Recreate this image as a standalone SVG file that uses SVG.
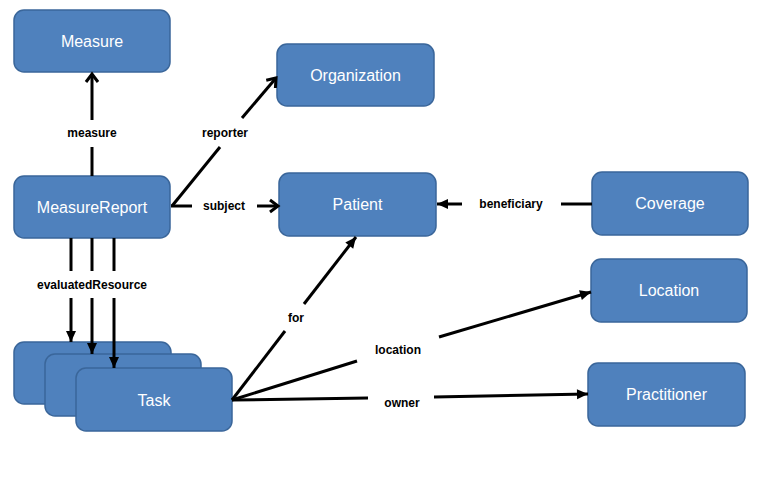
<svg xmlns="http://www.w3.org/2000/svg" width="760" height="486" viewBox="0 0 760 486">
<style>
.n{fill:#4F81BD;stroke:#3A669A;stroke-width:1.5}
.t{fill:#fff;font-family:"Liberation Sans",Arial,sans-serif;font-size:16px;text-anchor:middle;dominant-baseline:central}
.l{fill:#000;font-family:"Liberation Sans",Arial,sans-serif;font-size:12px;font-weight:bold;text-anchor:middle;dominant-baseline:central}
.c{stroke:#000;stroke-width:3;fill:none}
</style>
<defs>
<marker id="open" markerUnits="userSpaceOnUse" markerWidth="14" markerHeight="14" refX="11" refY="7" orient="auto" overflow="visible">
<path d="M3,1 L11,7 L3,13" fill="none" stroke="#000" stroke-width="3"/>
</marker>
<marker id="fill" markerUnits="userSpaceOnUse" markerWidth="12" markerHeight="10" refX="11" refY="5" orient="auto" overflow="visible">
<path d="M0,0 L11,5 L0,10 Z" fill="#000"/>
</marker>
</defs>
<rect width="760" height="486" fill="#fff"/>
<g id="measure"><rect class="n" x="14" y="10" width="156" height="62" rx="10"/><text class="t" x="92" y="41">Measure</text></g>
<g id="organization"><rect class="n" x="277" y="44" width="157" height="62" rx="10"/><text class="t" x="355.5" y="75">Organization</text></g>
<g id="measurereport"><rect class="n" x="14" y="176" width="156" height="62" rx="10"/><text class="t" x="92" y="207">MeasureReport</text></g>
<g id="patient"><rect class="n" x="279" y="173" width="157" height="63" rx="10"/><text class="t" x="357.5" y="204.5">Patient</text></g>
<g id="coverage"><rect class="n" x="592" y="172" width="156" height="63" rx="10"/><text class="t" x="670" y="203.5">Coverage</text></g>
<g id="location"><rect class="n" x="591" y="259" width="156" height="63" rx="10"/><text class="t" x="669" y="290.5">Location</text></g>
<g id="practitioner"><rect class="n" x="588" y="363" width="157" height="63" rx="10"/><text class="t" x="666.5" y="394.5">Practitioner</text></g>
<g id="task">
<rect class="n" x="14" y="342" width="157" height="62" rx="10"/>
<rect class="n" x="45" y="354" width="156" height="62" rx="10"/>
<rect class="n" x="76" y="368" width="156" height="63" rx="10"/>
<text class="t" x="154" y="400">Task</text>
</g>
<g id="connectors">
<line class="c" x1="92" y1="176" x2="92" y2="147"/>
<line class="c" x1="92" y1="120" x2="92" y2="74" marker-end="url(#open)"/>
<line class="c" x1="172" y1="206" x2="220" y2="147"/>
<line class="c" x1="242" y1="118" x2="276" y2="78" marker-end="url(#open)"/>
<line class="c" x1="171" y1="206" x2="192" y2="206"/>
<line class="c" x1="257" y1="206" x2="278" y2="206" marker-end="url(#open)"/>
<line class="c" x1="592" y1="204" x2="561" y2="204"/>
<line class="c" x1="462" y1="204" x2="437" y2="204" marker-end="url(#fill)"/>
<line class="c" x1="71" y1="238" x2="71" y2="271"/>
<line class="c" x1="92" y1="238" x2="92" y2="271"/>
<line class="c" x1="114" y1="238" x2="114" y2="271"/>
<line class="c" x1="71" y1="298" x2="71" y2="342" marker-end="url(#fill)"/>
<line class="c" x1="92" y1="298" x2="92" y2="354" marker-end="url(#fill)"/>
<line class="c" x1="114" y1="298" x2="114" y2="368" marker-end="url(#fill)"/>
<line class="c" x1="232" y1="400" x2="285" y2="331"/>
<line class="c" x1="304" y1="304" x2="356" y2="237" marker-end="url(#fill)"/>
<line class="c" x1="232" y1="400" x2="357" y2="361"/>
<line class="c" x1="439" y1="337" x2="591" y2="292" marker-end="url(#fill)"/>
<line class="c" x1="232" y1="400" x2="368" y2="398"/>
<line class="c" x1="434" y1="397" x2="588" y2="394" marker-end="url(#fill)"/>
<text class="l" x="92" y="133">measure</text>
<text class="l" x="225" y="133">reporter</text>
<text class="l" x="224" y="206">subject</text>
<text class="l" x="511" y="204">beneficiary</text>
<text class="l" x="92" y="285">evaluatedResource</text>
<text class="l" x="296" y="318">for</text>
<text class="l" x="398" y="350">location</text>
<text class="l" x="402" y="403">owner</text>
</g>
</svg>
